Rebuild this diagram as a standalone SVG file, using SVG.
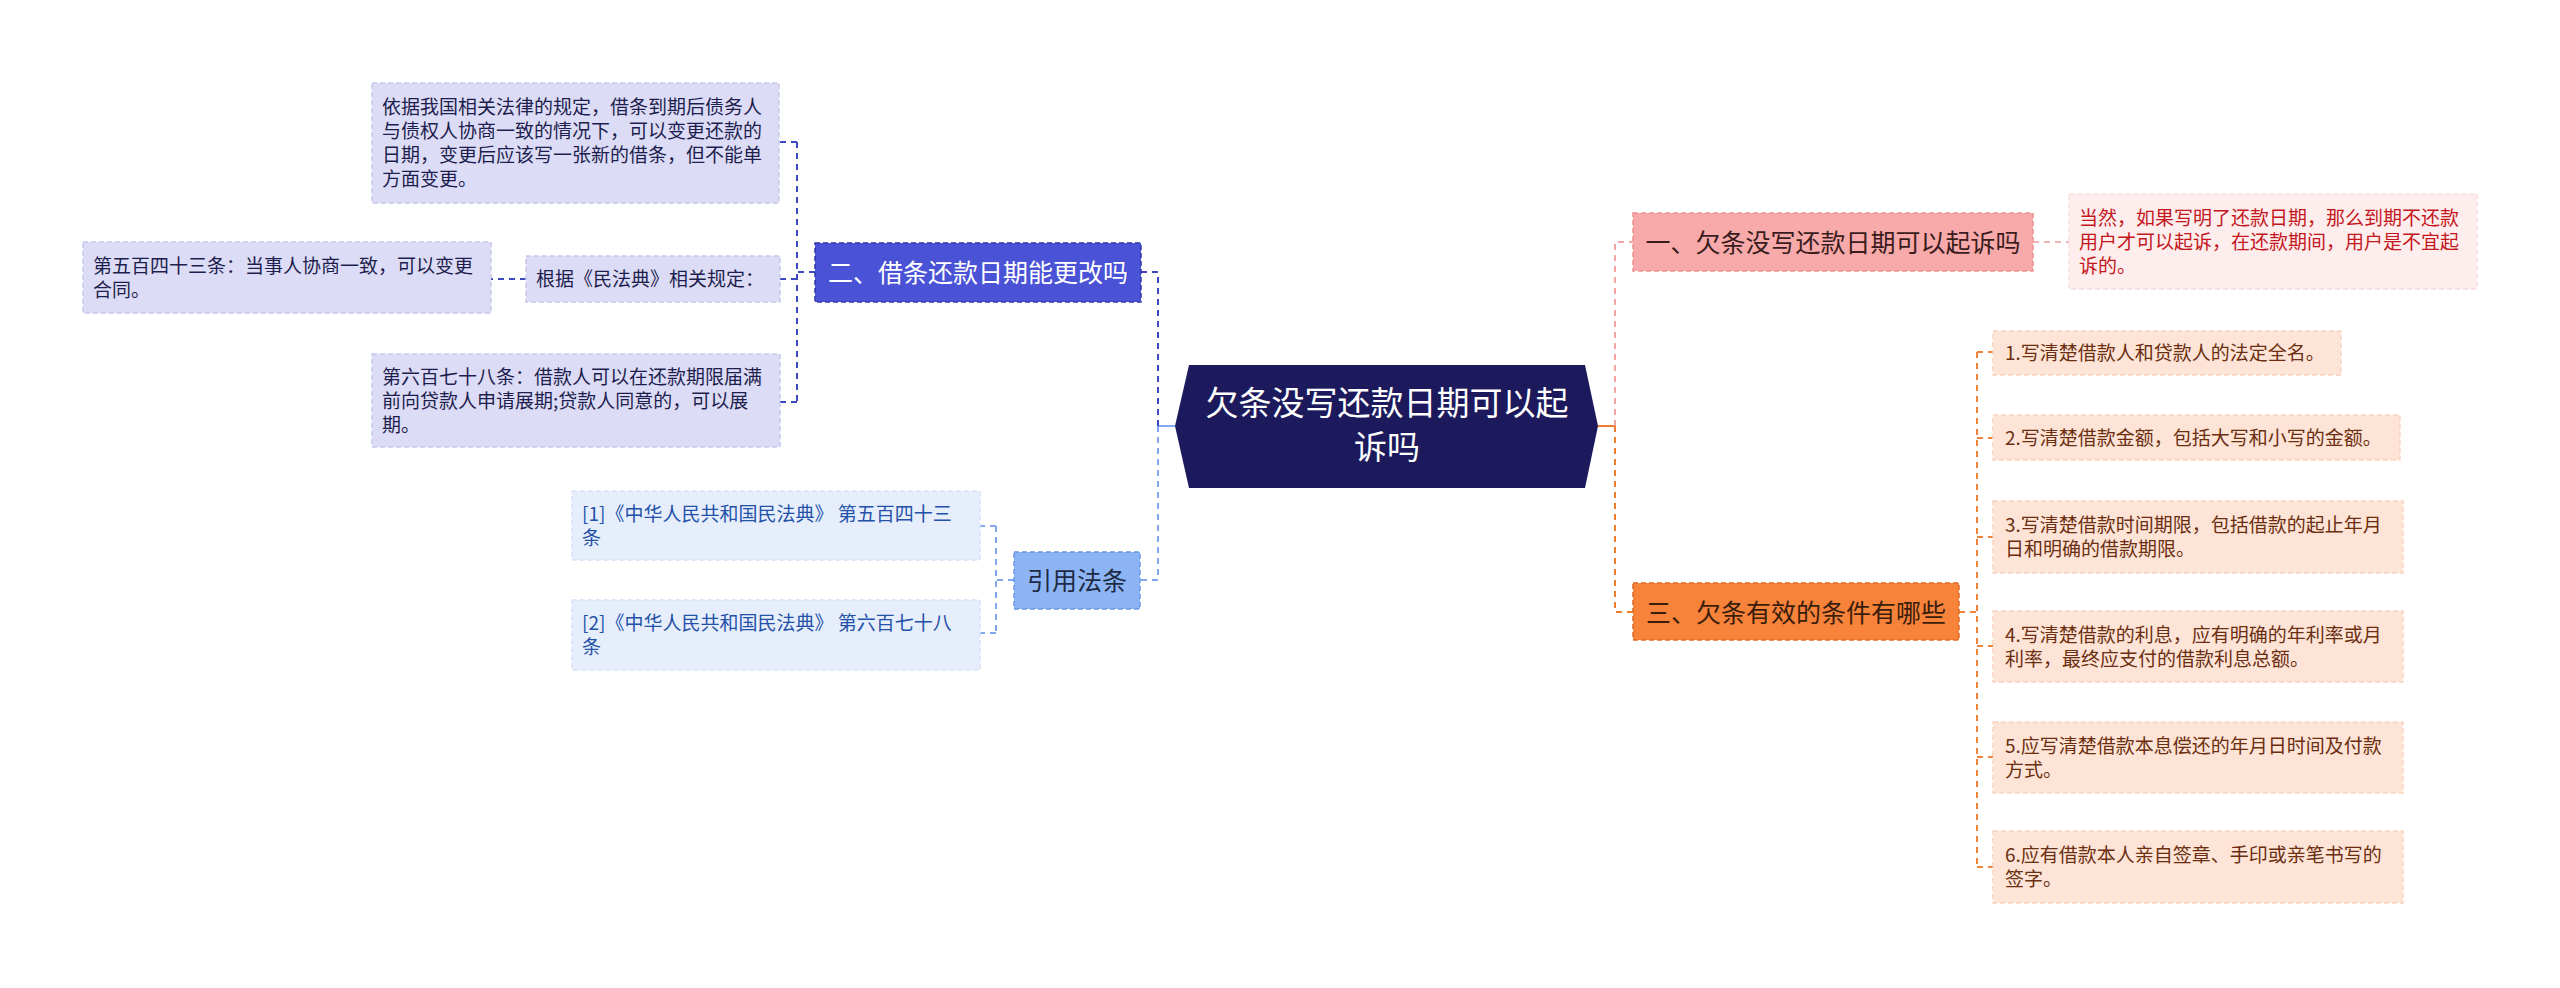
<svg xmlns="http://www.w3.org/2000/svg" width="2560" height="988" viewBox="0 0 2560 988">
<style>
text{font-family:"Noto Sans CJK SC","Noto Sans",sans-serif}
.c{fill:none;stroke-width:2;stroke-dasharray:6 5}
.s{fill:none;stroke-width:2}
.b{stroke-width:1.5;stroke-dasharray:5 3}
.m{font-size:25px;text-anchor:middle}
.l{font-size:19px}
</style>
<rect width="2560" height="988" fill="#ffffff"/>
<g id="connectors">
  <path class="s" d="M1175,426 H1158" stroke="#7fa8ef"/>
  <path class="c" d="M1158,426 V272 H1141" stroke="#3d47c0"/>
  <path class="c" d="M1158,426 V580 H1140" stroke="#7fa8ef"/>
  <path class="c" d="M815,272 H797 M797,142 V402 M797,142 H780 M797,279 H780 M797,402 H780 M526,279 H491" stroke="#3d47c0"/>
  <path class="c" d="M1014,580 H996 M996,526 V633 M996,526 H980 M996,633 H980" stroke="#7fa8ef"/>
  <path class="s" d="M1598,426 H1615" stroke="#f07d2e"/>
  <path class="c" d="M1615,426 V242 H1633" stroke="#f2a5a5"/>
  <path class="c" d="M1615,426 V612 H1633" stroke="#f07d2e"/>
  <path class="c" d="M2033,242 H2069" stroke="#f0b4b4"/>
  <path class="c" d="M1959,612 H1977 M1977,352 V867 M1977,352 H1993 M1977,438 H1993 M1977,537 H1993 M1977,646 H1993 M1977,757 H1993 M1977,867 H1993" stroke="#f0843a"/>
</g>
<g id="center">
  <polygon points="1189,365 1585,365 1598,426 1585,488 1189,488 1175,426" fill="#1c1a5c"/>
  <text x="1387" y="415" font-size="33" text-anchor="middle" fill="#ffffff">欠条没写还款日期可以起</text>
  <text x="1387" y="459" font-size="33" text-anchor="middle" fill="#ffffff">诉吗</text>
</g>
<g id="branch2">
  <rect class="b" x="815" y="243" width="326" height="59" fill="#4a52d6" stroke="#3038a8"/>
  <text class="m" x="978" y="282" fill="#ffffff">二、借条还款日期能更改吗</text>
</g>
<g id="leaf2a">
  <rect class="b" x="372" y="83" width="407" height="120" fill="#dcdcf6" stroke="#c8c8ec"/>
  <text class="l" x="382" y="114" fill="#1e1e4e">依据我国相关法律的规定，借条到期后债务人</text>
  <text class="l" x="382" y="138" fill="#1e1e4e">与债权人协商一致的情况下，可以变更还款的</text>
  <text class="l" x="382" y="162" fill="#1e1e4e">日期，变更后应该写一张新的借条，但不能单</text>
  <text class="l" x="382" y="186" fill="#1e1e4e">方面变更。</text>
</g>
<g id="leaf2b">
  <rect class="b" x="526" y="256" width="254" height="46" fill="#dcdcf6" stroke="#c8c8ec"/>
  <text class="l" x="536" y="286" fill="#1e1e4e">根据《民法典》相关规定：</text>
</g>
<g id="leaf2b1">
  <rect class="b" x="83" y="242" width="408" height="71" fill="#dcdcf6" stroke="#c8c8ec"/>
  <text class="l" x="93" y="272.5" fill="#1e1e4e">第五百四十三条：当事人协商一致，可以变更</text>
  <text class="l" x="93" y="296.5" fill="#1e1e4e">合同。</text>
</g>
<g id="leaf2c">
  <rect class="b" x="372" y="354" width="408" height="93" fill="#dcdcf6" stroke="#c8c8ec"/>
  <text class="l" x="382" y="383.5" fill="#1e1e4e">第六百七十八条：借款人可以在还款期限届满</text>
  <text class="l" x="382" y="407.5" fill="#1e1e4e">前向贷款人申请展期;贷款人同意的，可以展</text>
  <text class="l" x="382" y="431.5" fill="#1e1e4e">期。</text>
</g>
<g id="branchRef">
  <rect class="b" x="1014" y="552" width="126" height="57" fill="#8db5f6" stroke="#6a98e6"/>
  <text class="m" x="1077" y="589.5" fill="#1e2a44">引用法条</text>
</g>
<g id="ref1">
  <rect class="b" x="572" y="491" width="408" height="69" fill="#e6eefc" stroke="#d6e2f8"/>
  <text class="l" x="582" y="520.5" fill="#2451a8">[1]《中华人民共和国民法典》 第五百四十三</text>
  <text class="l" x="582" y="544.5" fill="#2451a8">条</text>
</g>
<g id="ref2">
  <rect class="b" x="572" y="600" width="408" height="70" fill="#e6eefc" stroke="#d6e2f8"/>
  <text class="l" x="582" y="630" fill="#2451a8">[2]《中华人民共和国民法典》 第六百七十八</text>
  <text class="l" x="582" y="654" fill="#2451a8">条</text>
</g>
<g id="branch1">
  <rect class="b" x="1633" y="213" width="400" height="58" fill="#f8aaaa" stroke="#ec9090"/>
  <text class="m" x="1833" y="252" fill="#3a1c1c">一、欠条没写还款日期可以起诉吗</text>
</g>
<g id="note1">
  <rect class="b" x="2069" y="194" width="408" height="95" fill="#fdeded" stroke="#f8dede"/>
  <text class="l" x="2079" y="224.5" fill="#c4161c">当然，如果写明了还款日期，那么到期不还款</text>
  <text class="l" x="2079" y="248.5" fill="#c4161c">用户才可以起诉，在还款期间，用户是不宜起</text>
  <text class="l" x="2079" y="272.5" fill="#c4161c">诉的。</text>
</g>
<g id="branch3">
  <rect class="b" x="1633" y="583" width="326" height="57" fill="#f7823a" stroke="#e06a22"/>
  <text class="m" x="1796" y="621.5" fill="#3a1d0a">三、欠条有效的条件有哪些</text>
</g>
<g id="item1">
  <rect class="b" x="1993" y="331" width="348" height="44" fill="#fde4d6" stroke="#f8d4c0"/>
  <text class="l" x="2005" y="360" fill="#6b2e10">1.写清楚借款人和贷款人的法定全名。</text>
</g>
<g id="item2">
  <rect class="b" x="1993" y="415" width="407" height="45" fill="#fde4d6" stroke="#f8d4c0"/>
  <text class="l" x="2005" y="445" fill="#6b2e10">2.写清楚借款金额，包括大写和小写的金额。</text>
</g>
<g id="item3">
  <rect class="b" x="1993" y="501" width="410" height="72" fill="#fde4d6" stroke="#f8d4c0"/>
  <text class="l" x="2005" y="532" fill="#6b2e10">3.写清楚借款时间期限，包括借款的起止年月</text>
  <text class="l" x="2005" y="556" fill="#6b2e10">日和明确的借款期限。</text>
</g>
<g id="item4">
  <rect class="b" x="1993" y="611" width="410" height="71" fill="#fde4d6" stroke="#f8d4c0"/>
  <text class="l" x="2005" y="641.5" fill="#6b2e10">4.写清楚借款的利息，应有明确的年利率或月</text>
  <text class="l" x="2005" y="665.5" fill="#6b2e10">利率，最终应支付的借款利息总额。</text>
</g>
<g id="item5">
  <rect class="b" x="1993" y="722" width="410" height="71" fill="#fde4d6" stroke="#f8d4c0"/>
  <text class="l" x="2005" y="752.5" fill="#6b2e10">5.应写清楚借款本息偿还的年月日时间及付款</text>
  <text class="l" x="2005" y="776.5" fill="#6b2e10">方式。</text>
</g>
<g id="item6">
  <rect class="b" x="1993" y="831" width="410" height="72" fill="#fde4d6" stroke="#f8d4c0"/>
  <text class="l" x="2005" y="862" fill="#6b2e10">6.应有借款本人亲自签章、手印或亲笔书写的</text>
  <text class="l" x="2005" y="886" fill="#6b2e10">签字。</text>
</g>
</svg>
